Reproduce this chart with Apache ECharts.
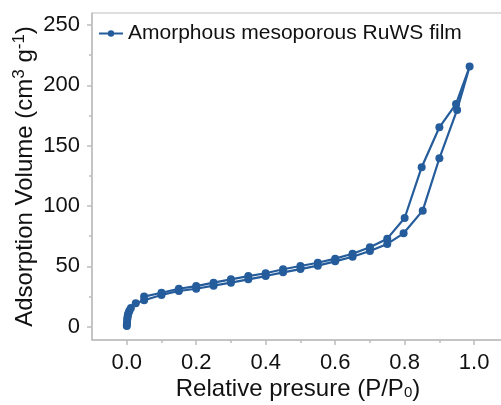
<!DOCTYPE html>
<html>
<head>
<meta charset="utf-8">
<script src="https://cdn.jsdelivr.net/npm/echarts@6/dist/echarts.min.js"></script>
<style>
  html, body { margin: 0; padding: 0; background: #fff; }
  #chart { width: 501px; height: 405px; }
</style>
</head>
<body>
<div id="chart"></div>
<script>
// adsorption branch (P/P0, volume)
const adsP = [0.0002, 0.0005, 0.001, 0.0015, 0.002, 0.003, 0.004, 0.006, 0.008, 0.012, 0.026, 0.05, 0.1, 0.15, 0.2, 0.25, 0.3, 0.35, 0.4, 0.45, 0.5, 0.55, 0.6, 0.65, 0.7, 0.75, 0.797, 0.852, 0.9, 0.951, 0.987]
const adsV = [0.5, 2, 4, 6, 7.5, 9, 10.5, 12, 13.5, 15.5, 19.4, 22, 26.3, 29.6, 31.5, 34, 36.5, 39.3, 42, 45.1, 47.8, 50.6, 54.2, 58, 62.8, 68.6, 77.4, 96.2, 139.6, 179.7, 215.6]
// desorption branch
const desP = [0.948, 0.9, 0.849, 0.8, 0.75, 0.7, 0.65, 0.6, 0.55, 0.5, 0.45, 0.4, 0.35, 0.3, 0.25, 0.2, 0.15, 0.1, 0.05]
const desV = [184.6, 165.3, 132.2, 90.1, 73, 65.8, 60.5, 56.4, 53, 50.3, 47.6, 44.3, 42, 39.3, 36.5, 33.7, 31.5, 28.2, 25]

const xMajor = [0, 0.2, 0.4, 0.6, 0.8, 1.0]
const xMinor = [0.1, 0.3, 0.5, 0.7, 0.9]
const yMajor = [0, 50, 100, 150, 200, 250]
const yMinor = [25, 75, 125, 175, 225]

const loop = adsP.map((p, i) => [p, adsV[i]]).concat(desP.map((p, i) => [p, desV[i]]))

const lineColor = '#255c9b'
const axisGray = '#bdbdbd'
const font = 'Liberation Sans, Arial, sans-serif'

const xRange = { min: -0.1, max: 1.086 }
const yRange = { min: -11, max: 260 }

const chart = echarts.init(document.getElementById('chart'))
chart.setOption({
  animation: false,
  grid: {
    left: 92, right: -3, top: 13, bottom: 65,
    outerBoundsMode: 'none',
    show: true, borderColor: axisGray, borderWidth: 1
  },
  legend: {
    left: 98, top: 23, padding: 0,
    itemWidth: 24, itemHeight: 8,
    textStyle: { fontFamily: font, fontSize: 21, color: '#111' },
    data: ['Amorphous mesoporous RuWS film']
  },
  xAxis: [
    {
      type: 'value', ...xRange,
      splitLine: { show: false },
      axisLine: { onZero: false, lineStyle: { color: axisGray, width: 1.5 } },
      axisTick: { customValues: xMajor, length: 5, lineStyle: { color: axisGray, width: 1.5 } },
      axisLabel: {
        customValues: xMajor, margin: 12,
        fontFamily: font, fontSize: 22, color: '#111',
        formatter: (v) => v.toFixed(1)
      },
      name: 'Relative presure (P/P{sub|0})',
      nameLocation: 'middle', nameGap: 37,
      nameMoveOverlap: false,
      nameTextStyle: {
        fontFamily: font, fontSize: 24, color: '#111',
        rich: { sub: { fontFamily: font, fontSize: 15, color: '#111', padding: [8, 0, 0, 0] } }
      }
    },
    {
      type: 'value', ...xRange, position: 'bottom',
      splitLine: { show: false },
      axisLine: { show: false, onZero: false },
      axisTick: { customValues: xMinor, length: 3, lineStyle: { color: axisGray, width: 1.5 } },
      axisLabel: { show: false }
    }
  ],
  yAxis: [
    {
      type: 'value', ...yRange,
      splitLine: { show: false },
      axisLine: { show: true, onZero: false, lineStyle: { color: axisGray, width: 1.5 } },
      axisTick: { show: true, customValues: yMajor, length: 5, lineStyle: { color: axisGray, width: 1.5 } },
      axisLabel: {
        customValues: yMajor, margin: 12,
        fontFamily: font, fontSize: 22, color: '#111'
      },
      name: 'Adsorption Volume (cm{sup|3} g{sup|-1})',
      nameLocation: 'middle', nameGap: 53,
      nameMoveOverlap: false,
      nameTextStyle: {
        fontFamily: font, fontSize: 24, color: '#111',
        rich: { sup: { fontFamily: font, fontSize: 17, color: '#111', padding: [0, 0, 11, 0] } }
      }
    },
    {
      type: 'value', ...yRange, position: 'left',
      splitLine: { show: false },
      axisLine: { show: false, onZero: false },
      axisTick: { show: true, customValues: yMinor, length: 3, lineStyle: { color: axisGray, width: 1.5 } },
      axisLabel: { show: false }
    }
  ],
  series: [
    {
      name: 'Amorphous mesoporous RuWS film',
      type: 'line',
      data: loop,
      symbol: 'circle',
      symbolSize: 8,
      itemStyle: { color: lineColor },
      lineStyle: { color: lineColor, width: 2.2 }
    }
  ]
})
</script>
</body>
</html>
